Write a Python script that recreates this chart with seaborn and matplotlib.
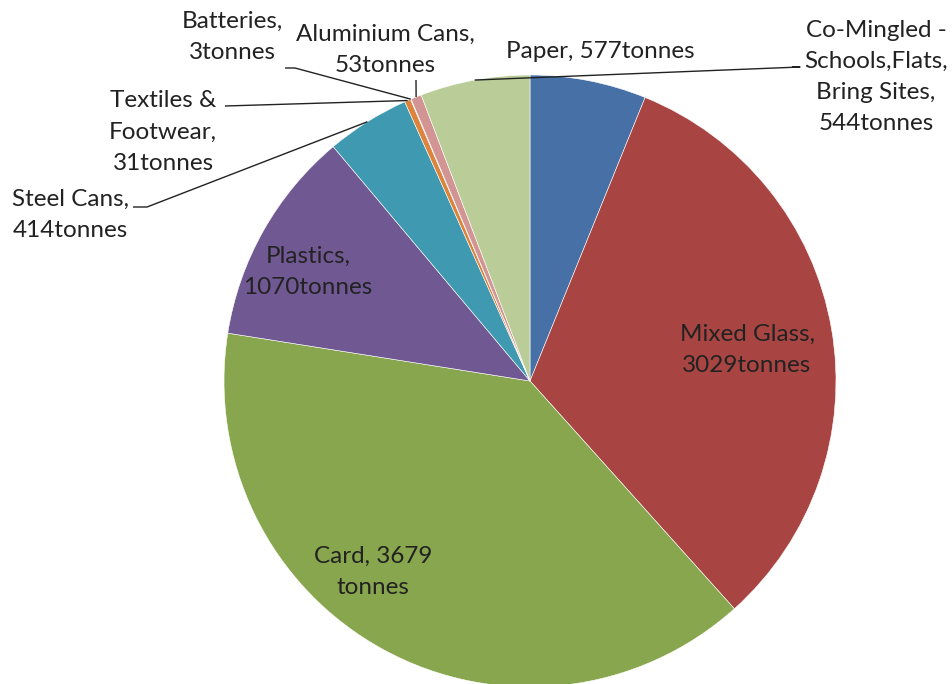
import numpy as np
import seaborn as sns
import matplotlib
matplotlib.use("Agg")
import matplotlib.pyplot as plt

# 資料：各回收類別（順時針，自 12 點鐘開始）
categories = ["Paper", "Mixed Glass", "Card", "Plastics", "Steel Cans",
              "Textiles & Footwear", "Batteries", "Aluminium Cans",
              "Co-Mingled - Schools,Flats, Bring Sites"]
tonnes = [577, 3029, 3679, 1070, 414, 31, 3, 53, 544]
labels = ["Paper, 577tonnes",
          "Mixed Glass,\n3029tonnes",
          "Card, 3679\ntonnes",
          "Plastics,\n1070tonnes",
          "Steel Cans,\n414tonnes",
          "Textiles &\nFootwear,\n31tonnes",
          "Batteries,\n3tonnes",
          "Aluminium Cans,\n53tonnes",
          "Co-Mingled -\nSchools,Flats,\nBring Sites,\n544tonnes"]
colors = ["#4670a6", "#a84542", "#88a64e", "#705893", "#3f99b1",
          "#dc843c", "#92b0d4", "#d39494", "#bacd98"]

sns.set_theme(style="white")
plt.rcParams['font.family'] = ['Lato', 'DejaVu Sans']

W, H = 952, 684
CX, CY, R = 530, 381, 306

fig = plt.figure(figsize=(W / 100, H / 100), dpi=100)
ax = fig.add_axes([0, 0, 1, 1])

wedges, _ = ax.pie(tonnes, colors=colors, startangle=90, counterclock=False,
                   wedgeprops=dict(edgecolor="white", linewidth=0.4))

ax.set_xlim(-CX / R, (W - CX) / R)
ax.set_ylim(-(H - CY) / R, CY / R)
ax.axis("off")


def px(x, y):
    # 像素座標轉成資料座標
    return (x - CX) / R, (CY - y) / R


def mid(w, r=1.0):
    a = np.deg2rad((w.theta1 + w.theta2) / 2)
    return r * np.cos(a), r * np.sin(a)


# 標籤位置（像素）與引線起點
label_pos = [(600, 52), (747, 350), (373, 572), (308, 272), (70, 215),
             (163, 132), (232, 37), (385, 50), (876, 77)]
leader = {4: [(133, 207), (147, 207)],
          5: [(225, 106)],
          6: [(285, 68), (295, 68)],
          7: [(416, 80)],
          8: [(792, 67), (800, 67)]}

for i, (lab, (x, y)) in enumerate(zip(labels, label_pos)):
    tx, ty = px(x, y)
    ax.text(tx, ty, lab, ha="center", va="center", fontsize=17.5,
            color="#222222", linespacing=1.6)
    if i in leader:
        pts = [px(*p) for p in leader[i]] + [mid(wedges[i])]
        xs, ys = zip(*pts)
        ax.plot(xs, ys, color="#222222", lw=1, solid_capstyle="butt")

fig.savefig("out.png", dpi=100)
